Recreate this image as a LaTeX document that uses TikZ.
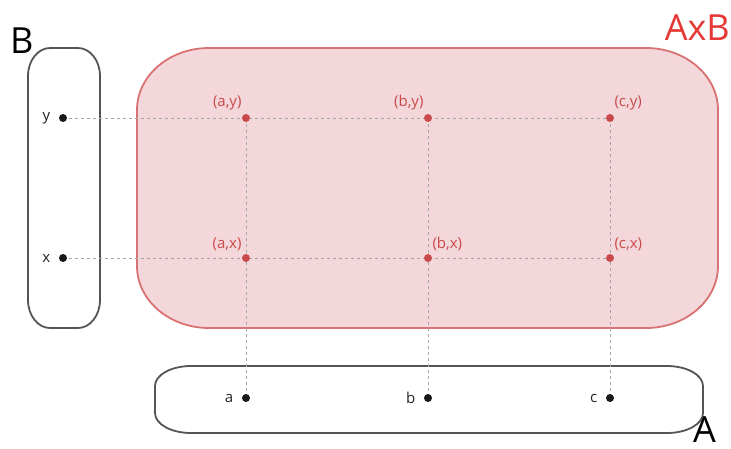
\documentclass[tikz,border=0pt]{standalone}
\usepackage{fontspec}
\setmainfont{Open Sans}
\usepackage{tikz}
\usetikzlibrary{calc, positioning, backgrounds}

\definecolor{setgray}{HTML}{555555}
\definecolor{prodfill}{HTML}{F4D7DA}
\definecolor{prodline}{HTML}{D97373}
\definecolor{prodtext}{HTML}{C94A4A}
\definecolor{prodtitle}{HTML}{E53935}

% box with elliptic corners: options, x1, y1, x2, y2, rx, ry
\newcommand{\setoutline}[7]{%
    \draw[#1] (#2+#6,#3) -- (#4-#6,#3)
        arc[start angle=90, end angle=0, x radius=#6pt, y radius=#7pt]
        -- (#4,#5-#7)
        arc[start angle=0, end angle=-90, x radius=#6pt, y radius=#7pt]
        -- (#2+#6,#5)
        arc[start angle=-90, end angle=-180, x radius=#6pt, y radius=#7pt]
        -- (#2,#3+#7)
        arc[start angle=180, end angle=90, x radius=#6pt, y radius=#7pt]
        -- cycle;}

\tikzset{
    elem/.style={circle, fill=black!90, inner sep=0pt, minimum size=8pt},
    pair/.style={circle, fill=prodtext, inner sep=0pt, minimum size=8pt},
    elemlabel/.style={font=\fontsize{15}{17}\selectfont, text=black!85},
    pairlabel/.style={font=\fontsize{15}{17}\selectfont, text=prodtext},
    setname/.style={font=\fontsize{36}{40}\selectfont, inner sep=0pt},
    guide/.style={gray!70, dashed, line width=0.5pt},
    setbox/.style={draw=setgray, line width=1.8pt},
}

\begin{document}
\begin{tikzpicture}[x=1pt, y=-1pt]
    \useasboundingbox (0,0) rectangle (731,448);
    \clip (0,0) rectangle (731,448);

    % elements of A and B
    \node[elem] (y) at (63,118) {};
    \node[elem] (x) at (63,258) {};
    \node[elem] (a) at (246,398) {};
    \node[elem] (b) at (428,398) {};
    \node[elem] (c) at (610,398) {};

    % pairs
    \node[pair] (ay) at (246,118) {};
    \node[pair] (by) at (428,118) {};
    \node[pair] (cy) at (610,118) {};
    \node[pair] (ax) at (246,258) {};
    \node[pair] (bx) at (428,258) {};
    \node[pair] (cx) at (610,258) {};

    \begin{scope}[on background layer]
        \fill[white] (0,0) rectangle (731,448);
        % the three sets
        \setoutline{setbox}{28}{48}{100}{328}{22}{28}
        \setoutline{draw=prodline, fill=prodfill, line width=1.8pt}{137}{48}{718}{328}{72}{62}
        \setoutline{setbox}{155}{366}{703}{433}{36}{20}
        % guide lines
        \draw[guide] (y.center) -- (cy.center);
        \draw[guide] (x.center) -- (cx.center);
        \draw[guide] (ay.center) -- (a.center);
        \draw[guide] (by.center) -- (b.center);
        \draw[guide] (cy.center) -- (c.center);
    \end{scope}

    % set names
    \node[setname, anchor=base west] (Bname) at (10,53) {B};
    \node[setname, anchor=base east, text=prodtitle] (ABname) at (730,40) {AxB};
    \node[setname, anchor=base west] (Aname) at (693,442) {A};

    % labels
    \node[elemlabel, left=5pt of y] {y};
    \node[elemlabel, left=5pt of x] {x};
    \node[elemlabel, left=5pt of a] {a};
    \node[elemlabel, left=5pt of b] {b};
    \node[elemlabel, left=5pt of c] {c};
    \node[pairlabel, anchor=south east] at ($(ay)+(-1,-4)$) {(a,y)};
    \node[pairlabel, anchor=south east] at ($(by)+(-1,-4)$) {(b,y)};
    \node[pairlabel, anchor=south west] at ($(cy)+(1,-4)$) {(c,y)};
    \node[pairlabel, anchor=south east] at ($(ax)+(-1,-4)$) {(a,x)};
    \node[pairlabel, anchor=south west] at ($(bx)+(1,-4)$) {(b,x)};
    \node[pairlabel, anchor=south west] at ($(cx)+(1,-4)$) {(c,x)};
\end{tikzpicture}
\end{document}
